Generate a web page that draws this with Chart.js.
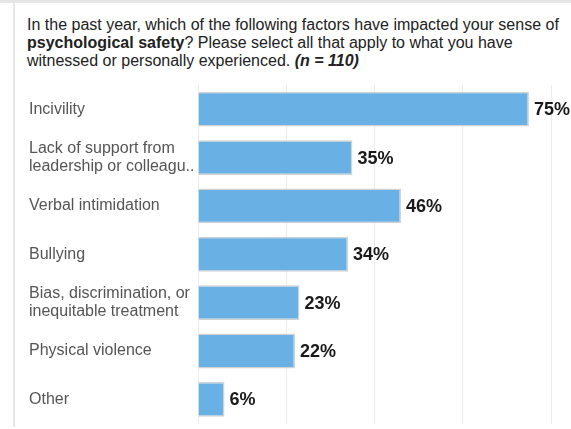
<!DOCTYPE html>
<html>
<head>
<meta charset="utf-8">
<script src="https://cdn.jsdelivr.net/npm/chart.js@4.4.1/dist/chart.umd.min.js"></script>
<style>
  body { margin: 0; background: #fff; font-family: "Liberation Sans", Arial, sans-serif; }
  #wrap { position: relative; width: 571px; height: 429px; overflow: hidden; }
  #topbar { position: absolute; left: 0; top: 0; width: 571px; height: 3px; background: #e6e6e6; }
  #leftbar { position: absolute; left: 13px; top: 3px; width: 2px; height: 424px; background: #e6e6e6; }
  #title { position: absolute; left: 27px; top: 16px; width: 544px; font-size: 16px; line-height: 18px; color: #222; white-space: nowrap; }
  canvas { position: absolute; left: 0; top: 0; }
</style>
</head>
<body>
<div id="wrap">
  <div id="topbar"></div>
  <div id="leftbar"></div>
  <div id="title">In the past year, which of the following factors have impacted your sense of<br><b>psychological safety</b>? Please select all that apply to what you have<br>witnessed or personally experienced. <b><i>(n = 110)</i></b></div>
  <!-- canvas runs a little past the bottom edge, the panel is cut off there -->
  <canvas id="myChart" width="571" height="436"></canvas>
</div>
<script>
// factors and share of respondents (%)
var factors = [
    "Incivility",
    ["Lack of support from", "leadership or colleagu.."],
    "Verbal intimidation",
    "Bullying",
    ["Bias, discrimination, or", "inequitable treatment"],
    "Physical violence",
    "Other"
];
var percents = [75, 35, 46, 34, 23, 22, 6];
var xTicks = [0, 20, 40, 60, 80];

// write the % next to the end of each bar
var valueLabels = {
    id: "valueLabels",
    afterDatasetsDraw: function(chart) {
        var ctx = chart.ctx;
        var meta = chart.getDatasetMeta(0);
        ctx.save();
        ctx.font = "bold 18px 'Liberation Sans', Arial, sans-serif";
        ctx.fillStyle = "#1a1a1a";
        ctx.textAlign = "left";
        ctx.textBaseline = "middle";
        meta.data.forEach(function(bar, i) {
            ctx.fillText(percents[i] + "%", bar.x + 5, bar.y + 1);
        });
        ctx.restore();
    }
};

var bieudo = new Chart(document.getElementById("myChart"), {
    type: "bar",
    data: {
        labels: factors,
        datasets: [{
            data: percents,
            backgroundColor: "#69b1e4",
            borderColor: "#d2d2d2",
            borderWidth: 1.5,
            categoryPercentage: 0.8,
            barPercentage: 0.9
        }]
    },
    options: {
        indexAxis: "y",
        responsive: false,
        animation: false,
        layout: { padding: { left: 29, right: 20, top: 85, bottom: 3 } },
        plugins: {
            legend: { display: false },
            tooltip: { enabled: false }
        },
        scales: {
            x: {
                min: 0,
                max: 80,
                afterBuildTicks: function(axis) {
                    axis.ticks = xTicks.map(function(v) { return { value: v }; });
                },
                afterFit: function(axis) { axis.height = 0; },
                ticks: { display: false },
                grid: { color: "#ececec", lineWidth: 1, drawTicks: false },
                border: { display: false }
            },
            y: {
                afterFit: function(axis) { axis.width = 169; },
                ticks: {
                    crossAlign: "far",
                    color: "#555",
                    font: { size: 16, family: "'Liberation Sans', Arial, sans-serif", lineHeight: 1.18 }
                },
                grid: { display: false },
                border: { display: false }
            }
        }
    },
    plugins: [valueLabels]
});
</script>
</body>
</html>
